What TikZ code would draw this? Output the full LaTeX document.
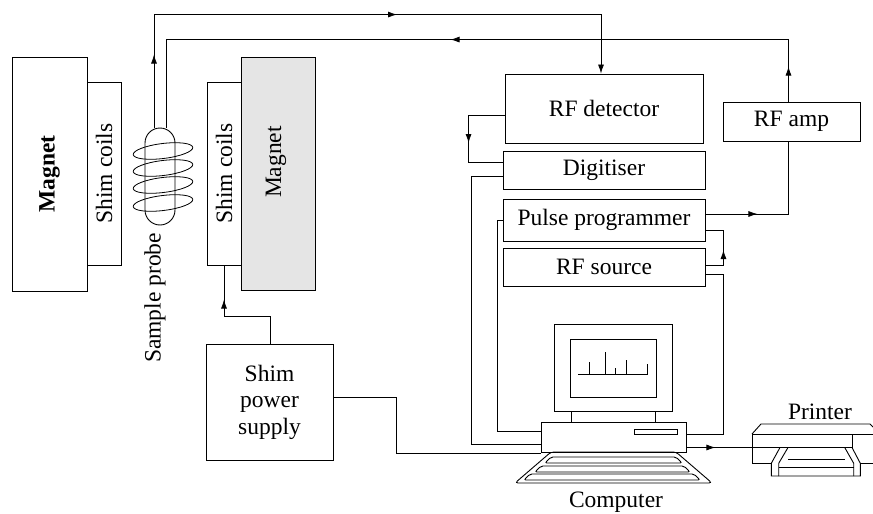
\documentclass[tikz,border=0pt]{standalone}
\usepackage{fontspec}
\usepackage{graphicx}
\setmainfont{LiberationSerif}[Extension=.ttf, UprightFont=*-Regular, BoldFont=*-Bold, ItalicFont=*-Italic, BoldItalicFont=*-BoldItalic]
\usetikzlibrary{arrows.meta,decorations.markings}
\newcommand\lbl{\fontsize{23.5}{26.5}\selectfont}
\begin{document}
\begin{tikzpicture}[x=1pt,y=-1pt,
  box/.style={draw, line width=0.9pt, inner sep=0pt, font=\lbl, align=center},
  wire/.style={line width=0.8pt},
  outline/.style={line width=0.9pt},
  tipend/.style={-{Latex[length=9pt,width=6pt]}},
  arrowat/.style={postaction={decorate,decoration={markings,
      mark=at position #1 with {\arrow{Latex[length=9pt,width=6pt]}}}}},
  lbltext/.style={font=\lbl, inner sep=0pt}]
\useasboundingbox (0,0) rectangle (873,514);
\clip (0,0) rectangle (873,514);

% magnet poles and shim coils
\node[box, minimum width=75pt, minimum height=234pt] (magL) at (49.5,174) {\rotatebox{90}{\bfseries Magnet}};
\node[box, minimum width=34pt, minimum height=183pt] (shimL) at (104,173.5) {\rotatebox{90}{Shim coils}};
\node[box, minimum width=34pt, minimum height=183pt] (shimR) at (224,173.5) {\rotatebox{90}{Shim coils}};
\node[box, fill=black!10, minimum width=74pt, minimum height=233pt] (magR) at (278,173.5) {};
\node[lbltext] (magRlbl) at (276,162) {\rotatebox{90}{Magnet}};

% sample probe with its coil
\node[draw, line width=0.9pt, rounded corners=15pt, minimum width=30pt, minimum height=97pt, inner sep=0pt] (probe) at (160,176.5) {};
\foreach \cy in {151,168,185,203}
  \draw[wire, rotate around={7:(163,\cy)}] (163,\cy) ellipse [x radius=30pt, y radius=7.5pt];
\node[lbltext] (probelbl) at (155,298) {\rotatebox{90}{Sample probe}};

% electronics
\node[box, minimum width=198pt, minimum height=69pt] (rfdet) at (604,108.5) {RF detector};
\node[box, minimum width=202pt, minimum height=38pt] (digit) at (604,170) {Digitiser};
\node[box, minimum width=202pt, minimum height=42pt] (pp) at (604,220) {Pulse programmer};
\node[box, minimum width=202pt, minimum height=38pt] (rfsrc) at (604,267) {RF source};
\node[box, minimum width=137pt, minimum height=39pt] (rfamp) at (791.5,121.5) {RF amp};
\node[box, minimum width=127pt, minimum height=116pt] (sps) at (269.5,402) {Shim\\power\\supply};

% computer
\node[box, minimum width=118pt, minimum height=87pt] (monitor) at (613,367.5) {};
\node[box, minimum width=86pt, minimum height=58pt] (screen) at (613,368) {};
\draw[wire] (578,374) -- (648,374)
  (589,374) -- (589,362) (605,374) -- (605,352) (615,374) -- (615,368)
  (626,374) -- (626,360) (647,374) -- (647,364);
\draw[outline] (571,411) -- (571,422) (655,411) -- (655,422);
\node[box, minimum width=145pt, minimum height=30pt] (base) at (613.5,437) {};
\draw[outline] (634,429) rectangle (677,434);
\draw[outline, rounded corners=3pt] (551,452) -- (676,452) -- (712,483) -- (515,483) -- cycle;
\draw[outline, rounded corners=2pt] (551,457) -- (676,457) -- (682,463) -- (545,463) -- cycle;
\draw[outline, rounded corners=2pt] (541,466) -- (684,466) -- (690,472) -- (535,472) -- cycle;
\draw[outline, rounded corners=2pt] (530,474) -- (694,474) -- (700,480) -- (524,480) -- cycle;
\node[lbltext] (complbl) at (616,502) {Computer};

% printer
\node[lbltext] (prnlbl) at (820,412) {Printer};
\draw[outline] (752,434) -- (761,424) -- (870,424) -- (873,427);
\draw[outline] (752,434) -- (873,434);
\draw[outline] (771.3,463.3) -- (752,463.3) -- (752,434);
\draw[outline] (752,447.5) -- (852,447.5) (852,434) -- (852,447.5);
\draw[outline] (860.3,463.3) -- (873,463.3);
\draw[outline] (780,447.5) -- (771.3,463.3) -- (771.3,476) -- (860.3,476) -- (860.3,463.3) -- (852,447.5);
\draw[outline] (788,447.5) -- (778.7,463.3) -- (778.7,476);
\draw[outline] (844.7,447.5) -- (853.7,463.3) -- (853.7,476);
\draw[outline] (788,459) -- (844.7,459) (778.7,467.3) -- (853.7,467.3);
\coordinate (prn) at (752,447.5);

% signal paths
\draw[wire, tipend, arrowat=73pt, arrowat=356pt] ([xshift=-6pt]probe.north) -- ++(0,-113) -| ([xshift=-3pt]rfdet.north);
\draw[wire, arrowat=35pt, arrowat=400pt] ([xshift=-3pt]rfamp.north) -- ++(0,-62) -| ([xshift=6pt]probe.north);
\draw[wire, arrowat=64pt] ([yshift=-6.5pt]rfdet.west) -- ++(-36,0) |- ([yshift=8pt]digit.west);
\draw[wire] ([yshift=-6pt]digit.west) -- ++(-31,0) |- ([yshift=-7pt]base.west);
\draw[wire] (pp.west) -- ++(-5,0) |- ([yshift=6pt]base.west);
\draw[wire, arrowat=52pt] ([yshift=6pt]pp.east) -| ([xshift=-3pt]rfamp.south);
\draw[wire, arrowat=33pt] ([yshift=2pt]rfsrc.east) -- ++(18,0) |- ([yshift=-10pt]pp.east);
\draw[wire] ([yshift=-7pt]rfsrc.east) -- ++(18,0) |- ([yshift=3pt]base.east);
\draw[wire, arrowat=29pt] ([yshift=-10.5pt]base.east) -- (prn);
\draw[wire] ([yshift=5pt]sps.east) -- ++(63,0) |- ([yshift=-16pt]base.west);
\draw[wire, arrowat=90pt] ([xshift=0.5pt]sps.north) -- ++(0,-27) -| (shimR.south);
\end{tikzpicture}
\end{document}
